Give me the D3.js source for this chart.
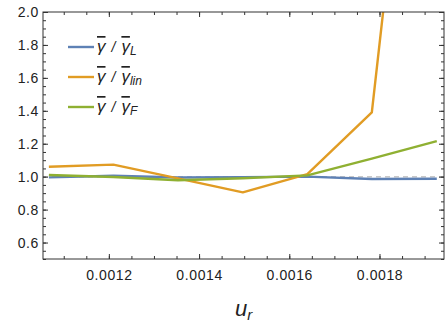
<!DOCTYPE html>
<html>
<head>
<meta charset="utf-8">
<script src="https://cdn.jsdelivr.net/npm/d3@7"></script>
<style>
  body { margin: 0; background: #fff; }
  text { font-family: "Liberation Sans", Arial, sans-serif; }
</style>
</head>
<body>
<svg width="447" height="327"></svg>
<script>
// u_r sample points
var ur = [0.001067, 0.00121, 0.001353, 0.001497, 0.00164, 0.001783, 0.001927];
// ratio series
var ratioL   = [0.996, 1.006, 0.995, 0.997, 1.0, 0.986, 0.987];
var ratioLin = [1.06, 1.073, 0.99, 0.905, 1.015, 1.39, 4.9];
var ratioF   = [1.01, 0.998, 0.978, 0.99, 1.008, 1.11, 1.216];
var xTicks = [0.0012, 0.0014, 0.0016, 0.0018];
var yTicks = [0.6, 0.8, 1.0, 1.2, 1.4, 1.6, 1.8, 2.0];

var series = [
  {values: ratioL, color: '#5e81b5', sub: 'L'},
  {values: ratioLin, color: '#e19c24', sub: 'lin'},
  {values: ratioF, color: '#8fb032', sub: 'F'}
];

var svg = d3.select('svg'),
  pLeft = 43, pRight = 444, pTop = 12, pBottom = 259;

var x = d3.scaleLinear().domain([0.001054, 0.001943]).range([pLeft, pRight]);
var y = d3.scaleLinear().domain([0.5, 2.0]).range([pBottom, pTop]);

svg.append('clipPath').attr('id', 'clip')
  .append('rect')
  .attr('x', pLeft).attr('y', pTop)
  .attr('width', pRight - pLeft).attr('height', pBottom - pTop);

// reference line at 1
svg.append('line')
  .attr('x1', pLeft).attr('x2', pRight)
  .attr('y1', y(1)).attr('y2', y(1))
  .attr('stroke', '#c8c8c8')
  .attr('stroke-width', 1.5)
  .attr('stroke-dasharray', '5,4');

var line = d3.line()
  .x((d, i) => x(ur[i]))
  .y(d => y(d));

svg.append('g').attr('clip-path', 'url(#clip)')
  .selectAll('path')
  .data(series)
  .enter()
  .append('path')
  .attr('d', d => line(d.values))
  .attr('fill', 'none')
  .attr('stroke', d => d.color)
  .attr('stroke-width', 2.4)
  .attr('stroke-linejoin', 'round');

// axes, ticks pointing inward
var xMinor = d3.range(0.0011, 0.00195, 0.00005);
var yMinor = d3.range(0.5, 2.001, 0.05);

function styleAxis(g) {
  g.select('.domain').remove();
  g.selectAll('line').attr('stroke', '#333');
}

function styleLabels(g) {
  g.selectAll('text')
    .attr('font-size', 14)
    .attr('letter-spacing', 0.6)
    .attr('fill', '#222');
}

svg.append('g')
  .attr('transform', `translate(0,${pBottom})`)
  .call(d3.axisBottom(x).tickValues(xMinor).tickSize(-3).tickFormat(''))
  .call(styleAxis);
svg.append('g')
  .attr('transform', `translate(0,${pBottom})`)
  .call(d3.axisBottom(x).tickValues(xTicks).tickSize(-5).tickPadding(11)
    .tickFormat(d3.format('.4f')))
  .call(styleAxis)
  .call(styleLabels);

svg.append('g')
  .attr('transform', `translate(0,${pTop})`)
  .call(d3.axisTop(x).tickValues(xMinor).tickSize(-3).tickFormat(''))
  .call(styleAxis);
svg.append('g')
  .attr('transform', `translate(0,${pTop})`)
  .call(d3.axisTop(x).tickValues(xTicks).tickSize(-5).tickFormat(''))
  .call(styleAxis);

svg.append('g')
  .attr('transform', `translate(${pLeft},0)`)
  .call(d3.axisLeft(y).tickValues(yMinor).tickSize(-3).tickFormat(''))
  .call(styleAxis);
svg.append('g')
  .attr('transform', `translate(${pLeft},0)`)
  .call(d3.axisLeft(y).tickValues(yTicks).tickSize(-5).tickPadding(4)
    .tickFormat(d3.format('.1f')))
  .call(styleAxis)
  .call(styleLabels);

svg.append('g')
  .attr('transform', `translate(${pRight},0)`)
  .call(d3.axisRight(y).tickValues(yMinor).tickSize(-3).tickFormat(''))
  .call(styleAxis);
svg.append('g')
  .attr('transform', `translate(${pRight},0)`)
  .call(d3.axisRight(y).tickValues(yTicks).tickSize(-5).tickFormat(''))
  .call(styleAxis);

svg.append('rect')
  .attr('x', pLeft).attr('y', pTop)
  .attr('width', pRight - pLeft).attr('height', pBottom - pTop)
  .attr('fill', 'none')
  .attr('stroke', '#333')
  .attr('stroke-width', 1);

// legend
var leg = svg.append('g').selectAll('g')
  .data(series)
  .enter()
  .append('g')
  .attr('transform', (d, i) => `translate(68,${47 + i * 30})`);

leg.append('line')
  .attr('x1', 0).attr('x2', 26)
  .attr('stroke', d => d.color)
  .attr('stroke-width', 2.4);

var lt = leg.append('text')
  .attr('x', 29).attr('y', 5)
  .attr('font-size', 17)
  .attr('font-style', 'italic')
  .attr('fill', '#222');
lt.append('tspan').attr('text-decoration', 'overline').text('γ');
lt.append('tspan').attr('dx', 6).attr('font-size', 14).text('/');
lt.append('tspan').attr('dx', 6).attr('text-decoration', 'overline').text('γ');
lt.append('tspan').attr('font-size', 12).attr('dy', 3).text(d => d.sub);

// x axis title
var xt = svg.append('text')
  .attr('x', 235).attr('y', 316)
  .attr('font-size', 22)
  .attr('font-style', 'italic')
  .attr('fill', '#222');
xt.append('tspan').text('u');
xt.append('tspan').attr('font-size', 15).attr('dy', 4).text('r');
</script>
</body>
</html>
